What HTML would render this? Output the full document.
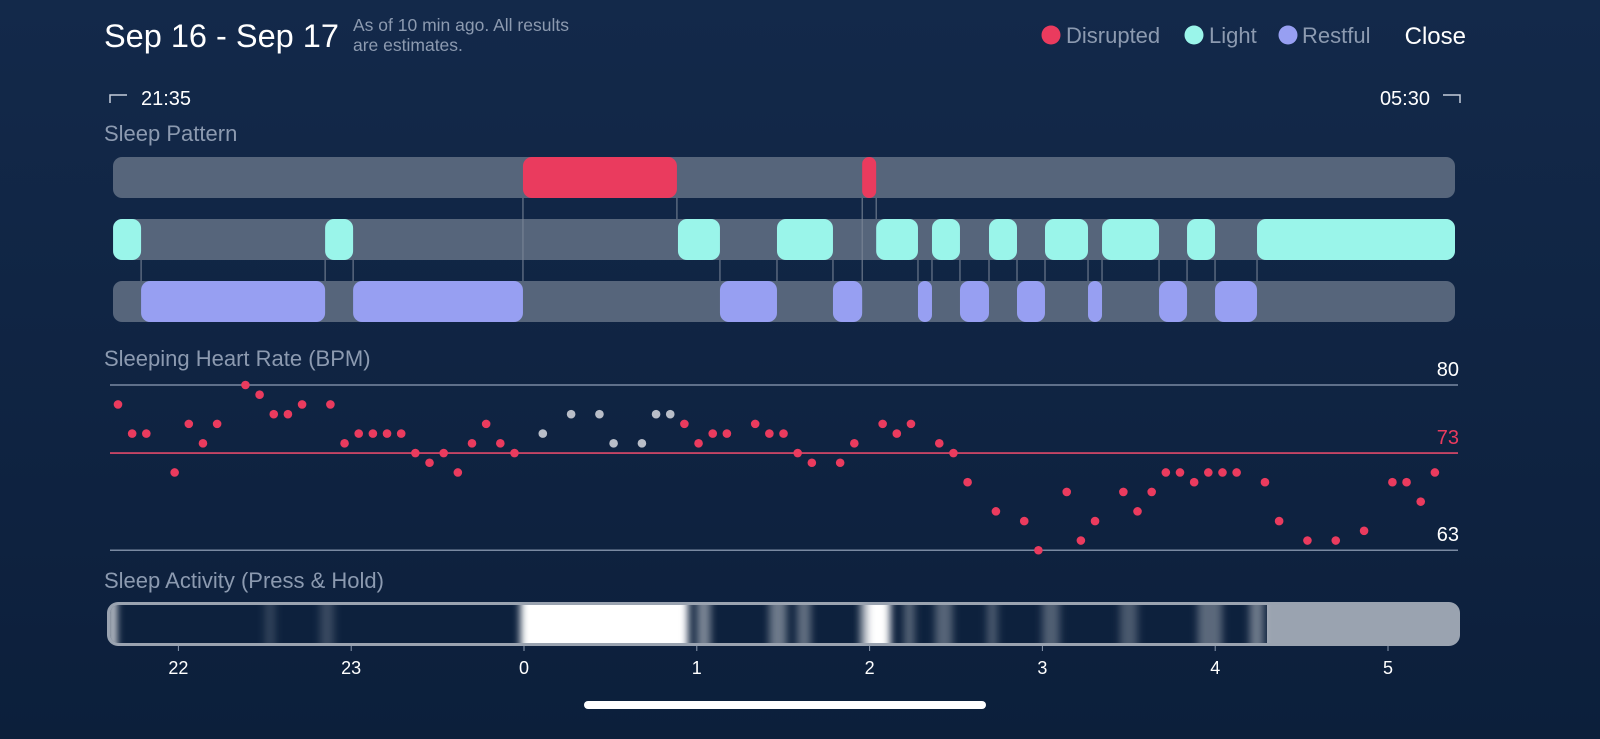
<!DOCTYPE html>
<html><head><meta charset="utf-8">
<style>
html,body{margin:0;padding:0;width:1600px;height:739px;overflow:hidden;background:#0e2240;font-family:"Liberation Sans",sans-serif;}
svg{display:block}
</style></head>
<body>
<svg width="1600" height="739" viewBox="0 0 1600 739">
<defs>
<linearGradient id="bg" x1="0" y1="0" x2="0" y2="1">
<stop offset="0" stop-color="#13294a"/><stop offset="1" stop-color="#0c1f3b"/></linearGradient>
<filter id="blur" x="-0.2" y="0" width="1.4" height="1"><feGaussianBlur stdDeviation="4 0"/></filter>
<clipPath id="actclip"><rect x="110" y="605" width="1347" height="38" rx="9"/></clipPath>
</defs>
<rect width="1600" height="739" fill="url(#bg)"/>

<text x="104" y="47" font-size="32.5" fill="#fff">Sep 16 - Sep 17</text>
<text x="353" y="31" font-size="17.5" fill="#8c9ab0">As of 10 min ago. All results</text>
<text x="353" y="51" font-size="17.5" fill="#8c9ab0">are estimates.</text>

<g>
<circle cx="1051" cy="35" r="9.5" fill="#ea3b5e"/>
<text x="1066" y="43" font-size="22" fill="#8c9ab0">Disrupted</text>
<circle cx="1194" cy="35" r="9.5" fill="#9af5ea"/>
<text x="1209" y="43" font-size="22" fill="#8c9ab0">Light</text>
<circle cx="1288" cy="35" r="9.5" fill="#979ff2"/>
<text x="1302" y="43" font-size="22" fill="#8c9ab0">Restful</text>
</g>
<text x="1466" y="44" font-size="24" fill="#fff" text-anchor="end">Close</text>

<g>
<path d="M110 103 V95 H127" stroke="#c5cedb" stroke-width="1.5" fill="none"/>
<text x="141" y="105" font-size="20" fill="#fff">21:35</text></g>
<g>
<path d="M1443 95 H1460 V103" stroke="#c5cedb" stroke-width="1.5" fill="none"/>
<text x="1430" y="105" font-size="20" fill="#fff" text-anchor="end">05:30</text></g>

<text x="104" y="141" font-size="22" fill="#8c9ab0">Sleep Pattern</text>
<g id="pattern"></g>

<text x="104" y="366" font-size="22" fill="#8c9ab0">Sleeping Heart Rate (BPM)</text>
<g id="hr"></g>

<text x="104" y="588" font-size="22" fill="#8c9ab0">Sleep Activity (Press &amp; Hold)</text>
<g>
<rect x="107" y="602" width="1353" height="44" rx="11" fill="#9aa3b0"/>
<g clip-path="url(#actclip)">
<rect x="110" y="605" width="1157" height="38" fill="#0d213d"/>
<g id="act" filter="url(#blur)"></g>
</g>
</g>
<g id="xaxis"></g>

<rect x="584" y="701" width="402" height="8" rx="4" fill="#fff"/>
</svg>
<script>
const NS="http://www.w3.org/2000/svg";
// time axis: hours relative to midnight
const hourTicks=[-2,-1,0,1,2,3,4,5];
const hourLabels=["22","23","0","1","2","3","4","5"];
const chartStart=-2.378, chartEnd=5.388;
// sleep pattern segments [startHour, endHour]
const disrupted=[[-0.006,0.885],[1.957,2.038]];
const light=[[-2.378,-2.216],[-1.151,-0.989],[0.891,1.134],[1.464,1.788],[2.038,2.280],[2.361,2.523],[2.691,2.853],[3.015,3.264],[3.345,3.675],[3.837,3.999],[4.242,5.388]];
const restful=[[-2.216,-1.151],[-0.989,-0.006],[1.134,1.464],[1.788,1.957],[2.280,2.361],[2.523,2.691],[2.853,3.015],[3.264,3.345],[3.675,3.837],[3.999,4.242]];
// heart rate: sample index (5 min each), bpm
const hrIdx=[0,1,2,4,5,6,7,9,10,11,12,13,15,16,17,18,19,20,21,22,23,24,25,26,27,28,40,41,42,43,45,46,47,48,49,51,52,54,55,56,58,59,60,62,64,65,67,68,69,71,72,73,74,75,76,77,78,79,81,82,84,86,88,90,91,92,93];
const hrVal=[78,75,75,71,76,74,76,80,79,77,77,78,78,74,75,75,75,75,73,72,73,71,74,76,74,73,76,74,75,75,76,75,75,73,72,72,74,76,75,76,74,73,70,67,66,63,69,64,66,69,67,69,71,71,70,71,71,71,70,66,64,64,65,70,70,68,71];
const grayIdx=[30,32,34,35,37,38,39];
const grayVal=[75,77,77,74,74,77,77];
const bpmTicks=[80,73,63];
const avgBpm=73;
// activity bands [startHour, endHour, intensity 0..1]
const activity=[[-2.4,-2.36,0.95],[-1.5,-1.44,0.15],[-1.18,-1.1,0.18],[-0.02,0.95,1.0],[1.0,1.08,0.45],[1.42,1.52,0.4],[1.58,1.66,0.35],[1.95,1.97,0.9],[1.98,2.12,1.0],[2.2,2.26,0.3],[2.38,2.48,0.3],[2.68,2.74,0.25],[3.0,3.1,0.28],[3.45,3.55,0.25],[3.9,4.04,0.32],[4.2,4.28,0.4]];

const X=h=>524+h*172.8;
const hrX=i=>118+i*14.16;
const Y=b=>385+(80-b)*9.72;
function el(t,a,p){const e=document.createElementNS(NS,t);for(const k in a)e.setAttribute(k,a[k]);p.appendChild(e);return e;}

const pat=document.getElementById('pattern');
const rows=[[157,disrupted,'#ea3b5e','disrupted'],[219,light,'#9af5ea','light'],[281,restful,'#979ff2','restful']];
rows.forEach(r=>{
  const bgr=el('rect',{x:113,y:r[0],width:1342,height:41,rx:9,fill:'#56657b'},pat);
  
  
});
const conn=el('g',{},pat);
rows.forEach((r,ri)=>r[1].forEach(s=>[s[0],s[1]].forEach(t=>{
  rows.forEach((r2,rj)=>{ if(rj<=ri)return;
    r2[1].forEach(s2=>{ if(Math.abs(s2[0]-t)<0.01||Math.abs(s2[1]-t)<0.01){
      const ln=el('line',{x1:X(t),x2:X(t),y1:r[0]+41,y2:r2[0],stroke:'#7d8899','stroke-width':1},conn);
      
      
    }});
  });
})));
rows.forEach(r=>r[1].forEach(s=>{
  const x1=Math.max(X(s[0]),113),x2=Math.min(X(s[1]),1455);
  const rc=el('rect',{x:x1,y:r[0],width:Math.max(x2-x1,8),height:41,rx:Math.min(9,(x2-x1)/2),fill:r[2]},pat);
  
  
}));

const hr=document.getElementById('hr');
bpmTicks.forEach((b,i)=>{
  const isAvg=b===avgBpm;
  const gl=el('line',{x1:110,x2:1458,y1:Y(b),y2:Y(b),stroke:isAvg?'#e04a6a':'#7a8aa2','stroke-width':1.6},hr);
  
  
  const t=el('text',{x:1459,y:Y(b)-9,'font-size':20,fill:isAvg?'#ea3b5e':'#fff','text-anchor':'end'},hr);
  t.textContent=b;
  
  
});
grayIdx.forEach((i,k)=>{
  const c=el('circle',{cx:hrX(i),cy:Y(grayVal[k]),r:4.3,fill:'#b9bec8'},hr);
  
  
});
hrIdx.forEach((i,k)=>{
  const c=el('circle',{cx:hrX(i),cy:Y(hrVal[k]),r:4.3,fill:'#ea3b5e'},hr);
  
  
});

const act=document.getElementById('act');
activity.forEach(a=>{
  const r=el('rect',{x:X(a[0]),y:600,width:X(a[1])-X(a[0]),height:50,fill:'#ffffff','fill-opacity':a[2]},act);
  
  
});

const xa=document.getElementById('xaxis');
hourTicks.forEach((h,i)=>{
  const tk=el('line',{x1:X(h),x2:X(h),y1:646,y2:651,stroke:'#8c9ab0','stroke-width':1},xa);
  
  
  const t=el('text',{x:X(h),y:674,'font-size':18,fill:'#fff','text-anchor':'middle'},xa);
  t.textContent=hourLabels[i];
  
  
});
</script>
</body></html>
